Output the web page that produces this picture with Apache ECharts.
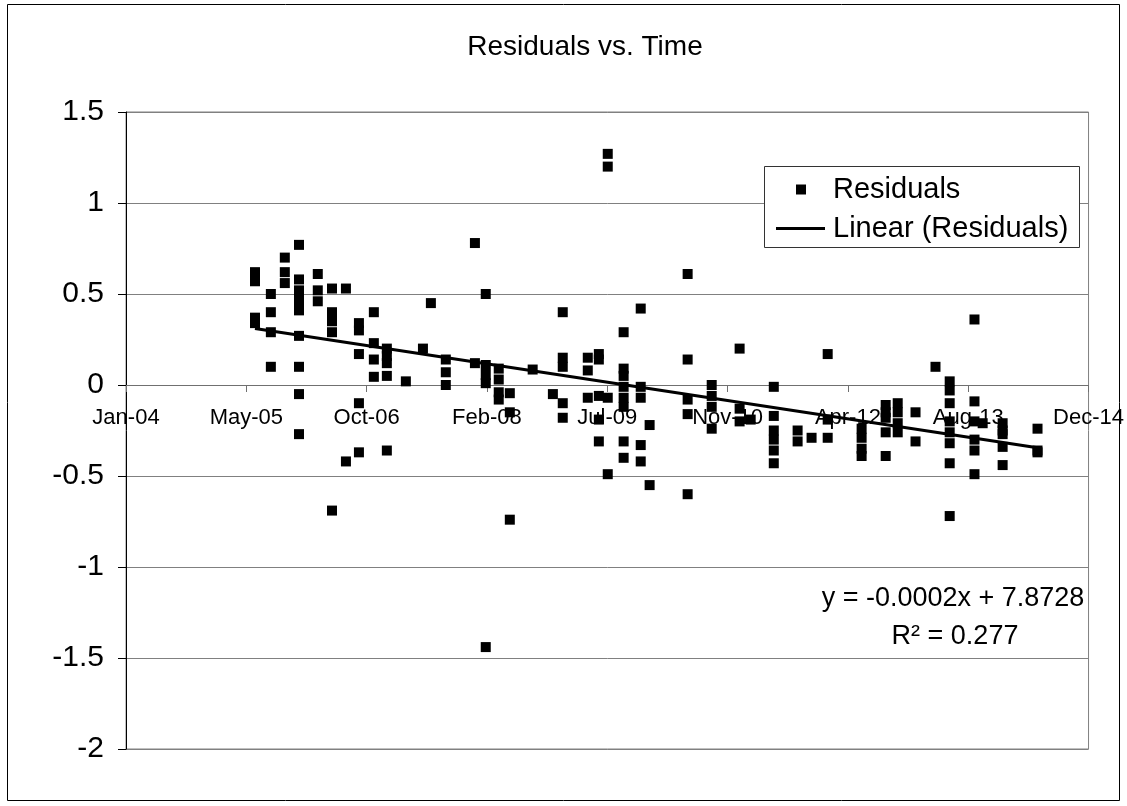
<!DOCTYPE html>
<html>
<head>
<meta charset="utf-8">
<title>Residuals vs. Time</title>
<script src="https://cdn.jsdelivr.net/npm/echarts@6/dist/echarts.min.js"></script>
<style>
  html, body { margin: 0; padding: 0; background: #fff; }
  #chart { width: 1127px; height: 806px; }
</style>
</head>
<body>
<div id="chart"></div>
<script>
// x = Excel date serial (days since 1899-12-30), y = residual
const residualDays = [
  38536, 38536, 38536, 38536,
  38602, 38602, 38602, 38602,
  38660, 38660, 38660,
  38719, 38719, 38719, 38719, 38719, 38719, 38719, 38719, 38719, 38719,
  38797, 38797, 38797,
  38856, 38856, 38856, 38856, 38856,
  38914, 38914,
  38968, 38968, 38968, 38968, 38968,
  39030, 39030, 39030, 39030,
  39084, 39084, 39084, 39084, 39084,
  39163, 39234, 39267,
  39329, 39329, 39329,
  39450, 39450,
  39495, 39495, 39495, 39495, 39495,
  39549, 39549, 39549, 39549,
  39595, 39595, 39595,
  39690, 39774,
  39815, 39815, 39815, 39815, 39815,
  39919, 39919, 39919,
  39965, 39965, 39965, 39965, 39965,
  40002, 40002, 40002, 40002,
  40068, 40068, 40068, 40068, 40068, 40068, 40068, 40068,
  40139, 40139, 40139, 40139, 40139,
  40176, 40176,
  40334, 40334, 40334, 40334, 40334,
  40434, 40434, 40434, 40434,
  40550, 40550, 40550,
  40596,
  40692, 40692, 40692, 40692, 40692, 40692,
  40791, 40791,
  40849,
  40916, 40916, 40916,
  41057, 41057, 41057, 41057,
  41157, 41157, 41157, 41157, 41157,
  41207, 41207, 41207, 41207,
  41281, 41281,
  41364,
  41423, 41423, 41423, 41423, 41423, 41423, 41423, 41423,
  41526, 41526, 41526, 41526, 41526, 41526,
  41560,
  41643, 41643, 41643, 41643, 41643,
  41788, 41788, 41788
];
const residualValues = [
  0.62, 0.57, 0.37, 0.34,
  0.50, 0.40, 0.29, 0.10,
  0.70, 0.62, 0.56,
  0.77, 0.58, 0.52, 0.48, 0.45, 0.41, 0.27, 0.10, -0.05, -0.27,
  0.61, 0.52, 0.46,
  0.53, 0.40, 0.35, 0.29, -0.69,
  0.53, -0.42,
  0.34, 0.30, 0.17, -0.10, -0.37,
  0.40, 0.23, 0.14, 0.045,
  0.20, 0.16, 0.12, 0.05, -0.36,
  0.02, 0.20, 0.45,
  0.14, 0.07, 0.00,
  0.78, 0.12,
  0.50, 0.11, 0.055, 0.01, -1.44,
  0.09, 0.03, -0.04, -0.08,
  -0.045, -0.15, -0.74,
  0.085, -0.05,
  0.40, 0.15, 0.10, -0.10, -0.18,
  0.15, 0.08, -0.07,
  0.17, 0.14, -0.06, -0.19, -0.31,
  1.27, 1.20, -0.07, -0.49,
  0.29, 0.09, 0.05, -0.01, -0.07, -0.12, -0.31, -0.40,
  0.42, -0.01, -0.07, -0.33, -0.42,
  -0.22, -0.55,
  0.61, 0.14, -0.08, -0.16, -0.60,
  0.00, -0.06, -0.12, -0.24,
  0.20, -0.13, -0.20,
  -0.19,
  -0.01, -0.17, -0.25, -0.30, -0.36, -0.43,
  -0.25, -0.31,
  -0.29,
  0.17, -0.19, -0.29,
  -0.24, -0.29, -0.35, -0.39,
  -0.11, -0.15, -0.18, -0.26, -0.39,
  -0.10, -0.15, -0.21, -0.26,
  -0.15, -0.31,
  0.10,
  0.02, -0.03, -0.10, -0.20, -0.26, -0.32, -0.43, -0.72,
  0.36, -0.09, -0.20, -0.30, -0.36, -0.49,
  -0.21,
  -0.21, -0.25, -0.27, -0.34, -0.44,
  -0.24, -0.36, -0.37
];
// linear trendline end points
const trendDays = [38536, 41788];
const trendValues = [0.31, -0.345];
// x axis tick labels, one every 500 days from serial 38000
const xTickLabels = ['Jan-04', 'May-05', 'Oct-06', 'Feb-08', 'Jul-09', 'Nov-10', 'Apr-12', 'Aug-13', 'Dec-14'];
const xMin = 38000, xStep = 500;
const yMin = -2, yMax = 1.5, yStep = 0.5;

const FONT = '"Liberation Sans", Arial, sans-serif';
const GRID = { left: 126, top: 112, right: 38, bottom: 57 };
const chartH = 806;
// the x axis crosses at y = 0: shift it up from the bottom edge of the grid
const plotH = chartH - GRID.top - GRID.bottom;
const zeroShift = plotH * (0 - yMin) / (yMax - yMin);

const chart = echarts.init(document.getElementById('chart'));

chart.setOption({
  animation: false,
  backgroundColor: '#fff',
  title: {
    text: 'Residuals vs. Time',
    left: 580,
    top: 28,
    textAlign: 'center',
    textStyle: { fontFamily: FONT, fontSize: 28, fontWeight: 'normal', color: '#000' }
  },
  grid: Object.assign({ show: true, borderColor: '#808080', borderWidth: 1 }, GRID),
  legend: [
    {
      data: [{ name: 'Residuals', icon: 'rect' }],
      left: 796, top: 175, padding: 0,
      itemWidth: 10, itemHeight: 10,
      selectedMode: false,
      textStyle: { fontFamily: FONT, fontSize: 29, color: '#000', padding: [0, 0, 0, 22] }
    },
    {
      data: [{ name: 'Linear (Residuals)', icon: 'rect' }],
      left: 776, top: 214, padding: 0,
      itemWidth: 49, itemHeight: 3,
      selectedMode: false,
      textStyle: { fontFamily: FONT, fontSize: 29, color: '#000', padding: [0, 0, 0, 3] }
    }
  ],
  xAxis: {
    type: 'value',
    position: 'bottom',
    offset: -zeroShift,
    min: xMin,
    max: xMin + xStep * (xTickLabels.length - 1),
    interval: xStep,
    axisLine: { onZero: false, lineStyle: { color: '#707070', width: 1 } },
    axisTick: { show: true, length: 7, lineStyle: { color: '#707070' } },
    axisLabel: {
      fontFamily: FONT, fontSize: 22, color: '#000', margin: 22,
      showMinLabel: true, showMaxLabel: true,
      formatter: v => xTickLabels[Math.round((v - xMin) / xStep)] || ''
    },
    splitLine: { show: false }
  },
  yAxis: {
    type: 'value',
    min: yMin, max: yMax, interval: yStep,
    axisLine: { show: true, onZero: false, lineStyle: { color: '#000', width: 1 } },
    axisTick: { show: true, length: 8, lineStyle: { color: '#000' } },
    axisLabel: { fontFamily: FONT, fontSize: 30, color: '#000', margin: 22 },
    splitLine: { show: true, lineStyle: { color: '#808080', width: 1 } }
  },
  series: [
    {
      name: 'Residuals',
      type: 'scatter',
      symbol: 'rect',
      symbolSize: 10,
      itemStyle: { color: '#000', opacity: 1 },
      data: residualDays.map((d, i) => [d, residualValues[i]]),
      z: 3
    },
    {
      name: 'Linear (Residuals)',
      type: 'line',
      symbol: 'none',
      lineStyle: { color: '#000', width: 3 },
      itemStyle: { color: '#000' },
      data: trendDays.map((d, i) => [d, trendValues[i]]),
      z: 4
    }
  ],
  graphic: [
    {
      type: 'rect', z: -10, silent: true,
      shape: { x: 7.5, y: 4.5, width: 1112, height: 796 },
      style: { fill: 'none', stroke: '#000', lineWidth: 1 }
    },
    {
      type: 'rect', z: 3, silent: true,
      shape: { x: 764.5, y: 166.5, width: 315, height: 81 },
      style: { fill: '#fff', stroke: '#333', lineWidth: 1 }
    },
    {
      type: 'text', z: 5, silent: true, x: 953, y: 599,
      style: { text: 'y = -0.0002x + 7.8728', fontFamily: FONT, fontSize: 27, fill: '#000', align: 'center', verticalAlign: 'middle' }
    },
    {
      type: 'text', z: 5, silent: true, x: 955, y: 637,
      style: { text: 'R² = 0.277', fontFamily: FONT, fontSize: 27, fill: '#000', align: 'center', verticalAlign: 'middle' }
    }
  ]
});
</script>
</body>
</html>
